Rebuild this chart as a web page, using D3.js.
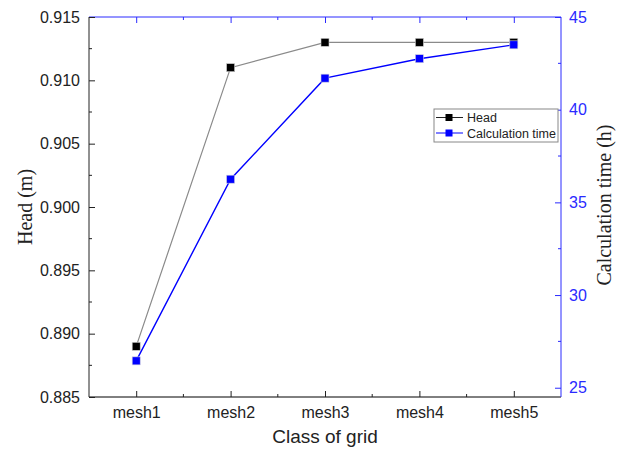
<!DOCTYPE html>
<html><head><meta charset="utf-8">
<script src="https://cdn.jsdelivr.net/npm/d3@7"></script>
<style>body{margin:0;background:#fff}svg{display:block}</style>
</head><body>
<script>
const categories = ["mesh1","mesh2","mesh3","mesh4","mesh5"];
const headValues = [0.889, 0.911, 0.913, 0.913, 0.913];
const timeValues = [26.45, 36.25, 41.7, 42.75, 43.5];
const headTicks = [0.885,0.890,0.895,0.900,0.905,0.910,0.915];
const timeTicks = [25,30,35,40,45];
const seriesNames = ["Head","Calculation time"];

const W=621,H=450, L=89, R=561, T=17, B=397;
const BLUE="#2a2aff";
const svg=d3.select("body").append("svg").attr("width",W).attr("height",H);

const x=d3.scalePoint().domain(categories).range([L,R]).padding(0.5);
const yL=d3.scaleLinear().domain([0.885,0.915]).range([B,T]);
const yR=d3.scaleLinear().domain([24.5,45]).range([B,T]);
const step=x.step();
const minorX=categories.slice(0,-1).map(c=>x(c)+step/2);

// bottom axis
const gB=svg.append("g").attr("transform",`translate(0,${B})`);
gB.call(d3.axisBottom(x).tickSizeInner(-6).tickSizeOuter(0).tickPadding(10));
gB.select(".domain").attr("d",`M${L},0H${R}`);
gB.selectAll("text").attr("font-family","Liberation Sans, Arial").attr("font-size",16).attr("fill","#222");
gB.selectAll("line").attr("stroke","#222");
gB.selectAll(".minor").data(minorX).enter().append("line").attr("x1",d=>d).attr("x2",d=>d).attr("y1",0).attr("y2",-3).attr("stroke","#222");

// top axis
const gT=svg.append("g").attr("transform",`translate(0,${T})`);
gT.call(d3.axisTop(x).tickSizeInner(-6).tickSizeOuter(0).tickFormat(""));
gT.select(".domain").attr("d",`M${L},0H${R}`).attr("stroke",BLUE);
gT.selectAll("line").attr("stroke",BLUE);
gT.selectAll(".minor").data(minorX).enter().append("line").attr("x1",d=>d).attr("x2",d=>d).attr("y1",0).attr("y2",3).attr("stroke",BLUE);

// left axis
const gL=svg.append("g").attr("transform",`translate(${L},0)`);
gL.call(d3.axisLeft(yL).tickValues(headTicks).tickFormat(d3.format(".3f")).tickSizeInner(-6).tickSizeOuter(0).tickPadding(9));
gL.select(".domain").attr("d",`M0,${T}V${B}`).attr("stroke","#222");
gL.selectAll("line").attr("stroke","#222");
gL.selectAll("text").attr("font-family","Liberation Sans, Arial").attr("font-size",16).attr("fill","#222");
const minorL=headTicks.slice(0,-1).map(v=>v+0.0025);
gL.selectAll(".minor").data(minorL).enter().append("line").attr("y1",d=>yL(d)).attr("y2",d=>yL(d)).attr("x1",0).attr("x2",3).attr("stroke","#222");

// right axis
const gR=svg.append("g").attr("transform",`translate(${R},0)`);
gR.call(d3.axisRight(yR).tickValues(timeTicks).tickSizeInner(-6).tickSizeOuter(0).tickPadding(8));
gR.select(".domain").attr("d",`M0,${T}V${B}`).attr("stroke",BLUE);
gR.selectAll("line").attr("stroke",BLUE);
gR.selectAll("text").attr("font-family","Liberation Sans, Arial").attr("font-size",16).attr("fill",BLUE);
const minorR=timeTicks.slice(0,-1).map(v=>v+2.5);
gR.selectAll(".minor").data(minorR).enter().append("line").attr("y1",d=>yR(d)).attr("y2",d=>yR(d)).attr("x1",0).attr("x2",-3).attr("stroke",BLUE);

// axis titles
svg.append("text").attr("transform",`translate(32,${(T+B)/2}) rotate(-90)`).attr("text-anchor","middle")
  .attr("font-family","Liberation Serif, Times New Roman").attr("font-size",20).attr("fill","#222").text("Head (m)");
svg.append("text").attr("transform",`translate(611,${(T+B)/2-2}) rotate(-90)`).attr("text-anchor","middle")
  .attr("font-family","Liberation Serif, Times New Roman").attr("font-size",20).attr("fill","#222").text("Calculation time (h)");
svg.append("text").attr("x",(L+R)/2).attr("y",443).attr("text-anchor","middle")
  .attr("font-family","Liberation Sans, Arial").attr("font-size",19).attr("fill","#222").text("Class of grid");

// series
const ms=8;
const lineH=d3.line().x((d,i)=>x(categories[i])).y(d=>yL(d));
svg.append("path").attr("d",lineH(headValues)).attr("fill","none").attr("stroke","#8a8a8a").attr("stroke-width",1.2);
svg.selectAll(".mh").data(headValues).enter().append("rect")
  .attr("x",(d,i)=>x(categories[i])-ms/2).attr("y",d=>yL(d)-ms/2).attr("width",ms).attr("height",ms)
  .attr("fill","#000").attr("stroke","#ccc").attr("stroke-width",0.6);
const lineT=d3.line().x((d,i)=>x(categories[i])).y(d=>yR(d));
svg.append("path").attr("d",lineT(timeValues)).attr("fill","none").attr("stroke","#0000ff").attr("stroke-width",1.4);
svg.selectAll(".mt").data(timeValues).enter().append("rect")
  .attr("x",(d,i)=>x(categories[i])-ms/2).attr("y",d=>yR(d)-ms/2).attr("width",ms).attr("height",ms)
  .attr("fill","#0000ff").attr("stroke","#ccd").attr("stroke-width",0.6);

// legend
const lg=svg.append("g").attr("transform","translate(434,109)");
lg.append("rect").attr("width",124).attr("height",33).attr("fill","#fff").attr("stroke","#888").attr("stroke-width",1);
const lcol=["#222","#0000ff"], lfill=["#000","#0000ff"];
seriesNames.forEach((n,i)=>{
  const yy=8.5+i*15.5;
  lg.append("line").attr("x1",2).attr("x2",29).attr("y1",yy).attr("y2",yy).attr("stroke",lcol[i]).attr("stroke-width",1);
  lg.append("rect").attr("x",15-3.5).attr("y",yy-3.5).attr("width",7).attr("height",7).attr("fill",lfill[i]);
  lg.append("text").attr("x",33).attr("y",yy+4.5).attr("font-family","Liberation Sans, Arial").attr("font-size",12.5).attr("fill","#222").text(n);
});
</script>
</body></html>
